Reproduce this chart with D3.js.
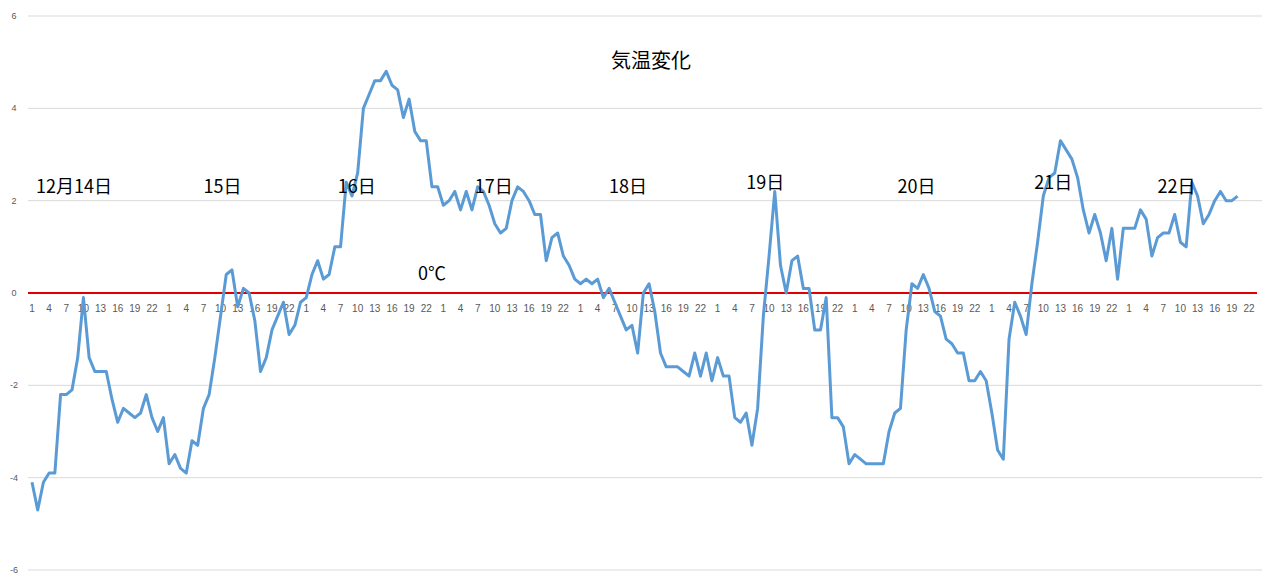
<!DOCTYPE html>
<html><head><meta charset="utf-8">
<script src="https://cdn.jsdelivr.net/npm/d3@7"></script>
<style>body{margin:0;background:#fff}</style></head>
<body><svg id="c" width="1280" height="586"></svg>
<script>
const hourLabels=[1,2,3,4,5,6,7,8,9,10,11,12,13,14,15,16,17,18,19,20,21,22,23,24];
const day14=[-4.1,-4.7,-4.1,-3.9,-3.9,-2.2,-2.2,-2.1,-1.4,-0.1,-1.4,-1.7,-1.7,-1.7,-2.3,-2.8,-2.5,-2.6,-2.7,-2.6,-2.2,-2.7,-3.0,-2.7];
const day15=[-3.7,-3.5,-3.8,-3.9,-3.2,-3.3,-2.5,-2.2,-1.4,-0.5,0.4,0.5,-0.3,0.1,0.0,-0.6,-1.7,-1.4,-0.8,-0.5,-0.2,-0.9,-0.7,-0.2];
const day16=[-0.1,0.4,0.7,0.3,0.4,1.0,1.0,2.4,2.1,2.6,4.0,4.3,4.6,4.6,4.8,4.5,4.4,3.8,4.2,3.5,3.3,3.3,2.3,2.3];
const day17=[1.9,2.0,2.2,1.8,2.2,1.8,2.3,2.2,1.9,1.5,1.3,1.4,2.0,2.3,2.2,2.0,1.7,1.7,0.7,1.2,1.3,0.8,0.6,0.3];
const day18=[0.2,0.3,0.2,0.3,-0.1,0.1,-0.2,-0.5,-0.8,-0.7,-1.3,0.0,0.2,-0.4,-1.3,-1.6,-1.6,-1.6,-1.7,-1.8,-1.3,-1.8,-1.3,-1.9];
const day19=[-1.4,-1.8,-1.8,-2.7,-2.8,-2.6,-3.3,-2.5,-0.5,0.8,2.2,0.6,0.0,0.7,0.8,0.1,0.1,-0.8,-0.8,-0.1,-2.7,-2.7,-2.9,-3.7];
const day20=[-3.5,-3.6,-3.7,-3.7,-3.7,-3.7,-3.0,-2.6,-2.5,-0.8,0.2,0.1,0.4,0.1,-0.4,-0.5,-1.0,-1.1,-1.3,-1.3,-1.9,-1.9,-1.7,-1.9];
const day21=[-2.6,-3.4,-3.6,-1.0,-0.2,-0.5,-0.9,0.2,1.1,2.1,2.5,2.6,3.3,3.1,2.9,2.5,1.8,1.3,1.7,1.3,0.7,1.4,0.3,1.4];
const day22=[1.4,1.4,1.8,1.6,0.8,1.2,1.3,1.3,1.7,1.1,1.0,2.4,2.1,1.5,1.7,2.0,2.2,2.0,2.0,2.1];
const yTicks=[-6,-4,-2,0,2,4,6];
const dayLabels=["12月14日","15日","16日","17日","18日","19日","20日","21日","22日"];
const dayLabelPos=[0.7,30,53.5,77.5,101,125,151.5,175.4,197];
const title="気温変化", zeroLabel="0℃";

const temps=[].concat(day14,day15,day16,day17,day18,day19,day20,day21,day22);
const nSlots=9*24;
const svg=d3.select("#c");
const x=d3.scaleLinear().domain([0,213]).range([32,1249]);
const y=d3.scaleLinear().domain([-6,6]).range([570,16]);
const gx0=28,gx1=1262;
svg.append("g").selectAll("line").data(yTicks.filter(v=>v!==0)).join("line")
 .attr("x1",gx0).attr("x2",gx1).attr("y1",d=>y(d)).attr("y2",d=>y(d)).attr("stroke","#d9d9d9");
svg.append("g").selectAll("text").data(yTicks).join("text")
 .attr("x",14).attr("y",d=>y(d)+3).attr("text-anchor","middle").attr("font-family","Liberation Sans, Arial")
 .attr("font-size",9).attr("fill","#595959").text(d=>d);
// x tick labels every 3 hours
const xt=d3.range(0,nSlots).filter(i=>i%3===0);
svg.append("g").selectAll("text").data(xt).join("text")
 .attr("x",i=>x(i)).attr("y",y(0)+19).attr("text-anchor","middle").attr("font-family","Liberation Sans, Arial")
 .attr("font-size",10).attr("fill","#595959").text(i=>hourLabels[i%24]);
svg.append("line").attr("x1",gx0).attr("x2",1257).attr("y1",y(0)).attr("y2",y(0)).attr("stroke","#e00000").attr("stroke-width",2);
svg.append("path").datum(temps).attr("fill","none").attr("stroke","#5b9bd5").attr("stroke-width",3)
 .attr("stroke-linejoin","round").attr("d",d3.line().x((d,i)=>x(i)).y(d=>y(d)));
const jp="Noto Sans CJK JP, sans-serif";
svg.append("text").attr("x",651).attr("y",68).attr("text-anchor","middle").attr("font-family",jp).attr("font-size",20).attr("fill","#000").text(title);
svg.append("g").selectAll("text").data(dayLabels).join("text")
 .attr("x",(d,i)=>x(dayLabelPos[i])).attr("y",(d,i)=>i===5?189:i===7?189:193).attr("font-family",jp).attr("font-size",18).attr("fill","#000").text(d=>d);
svg.append("text").attr("x",418).attr("y",280).attr("font-family",jp).attr("font-size",18).attr("fill","#000").text(zeroLabel);
</script></body></html>
